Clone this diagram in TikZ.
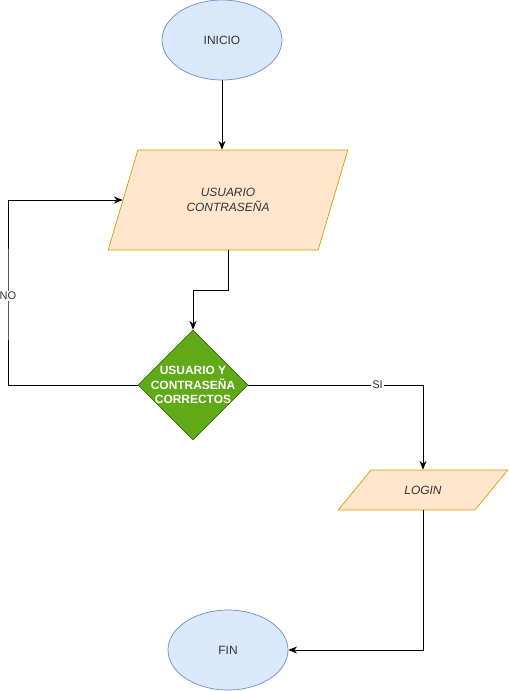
\documentclass[tikz,border=0pt]{standalone}
\usepackage{fontspec}
\setmainfont{Liberation Sans}
\usepackage{tikz}
\usetikzlibrary{arrows.meta,positioning,calc,shapes.geometric}
\usepackage{xcolor}
\definecolor{startfill}{HTML}{DAE8FC}
\definecolor{startline}{HTML}{6C8EBF}
\definecolor{iofill}{HTML}{FFE6CC}
\definecolor{ioline}{HTML}{D79B00}
\definecolor{decfill}{HTML}{60A917}
\definecolor{decline}{HTML}{2D7600}
\definecolor{fctext}{HTML}{333333}
\tikzset{
  fcstart/.style={draw=startline, fill=startfill, ellipse, line width=0.6pt,
    minimum width=3.6cm, minimum height=2.4cm, text=fctext, font=\fontsize{10.2}{12.2}\selectfont},
  fcio/.style={draw=ioline, fill=iofill, trapezium, trapezium stretches=true, line width=0.6pt,
    align=center, text=fctext, font=\fontsize{10.2}{12.2}\selectfont\itshape},
  fcdec/.style={draw=decline, fill=decfill, diamond, line width=0.6pt, inner sep=0pt,
    minimum width=3.3cm, minimum height=3.3cm},
  fcdectext/.style={align=center, text=white, font=\fontsize{10.2}{12.2}\selectfont\bfseries},
  fcarrow/.style={-{Stealth[length=2.6mm, width=2.1mm, inset=0.8mm]}, line width=0.7pt},
  fclabel/.style={fill=white, inner sep=1pt, font=\fontsize{9.4}{11}\selectfont, text=fctext},
}
\begin{document}
\begin{tikzpicture}[x=0.03cm, y=-0.03cm]
  \useasboundingbox (0,0) rectangle (509,691);
  \node[fcstart] (inicio) at (222,40) {INICIO};
  \node[fcio, minimum width=7.2cm, minimum height=3.0cm,
    trapezium left angle=63.9, trapezium right angle=116.1] (user) at (228,200)
    {USUARIO\\CONTRASEÑA};
  \node[fcdec, label={[fcdectext]center:{USUARIO Y\\CONTRASEÑA\\CORRECTOS}}] (dec) at (193,385) {};
  \node[fcio, minimum width=5.1cm, minimum height=1.2cm,
    trapezium left angle=48.8, trapezium right angle=131.2] (login) at (423,490) {LOGIN};
  \node[fcstart] (fin) at (228,650) {FIN};
  \coordinate (noback) at (8,296);

  \draw[fcarrow] (inicio.south) -- (inicio.south |- user.north);
  \draw[fcarrow] (user.south) -- ++(0,40) -| (dec.north);
  \draw[fcarrow] (dec.west) -| (noback) node[fclabel] {NO} |- (user.west);
  \draw[fcarrow] (dec.east) -| node[fclabel, pos=0.37] {SI} (login.north);
  \draw[fcarrow] (login.south) |- (fin.east);
\end{tikzpicture}
\end{document}
